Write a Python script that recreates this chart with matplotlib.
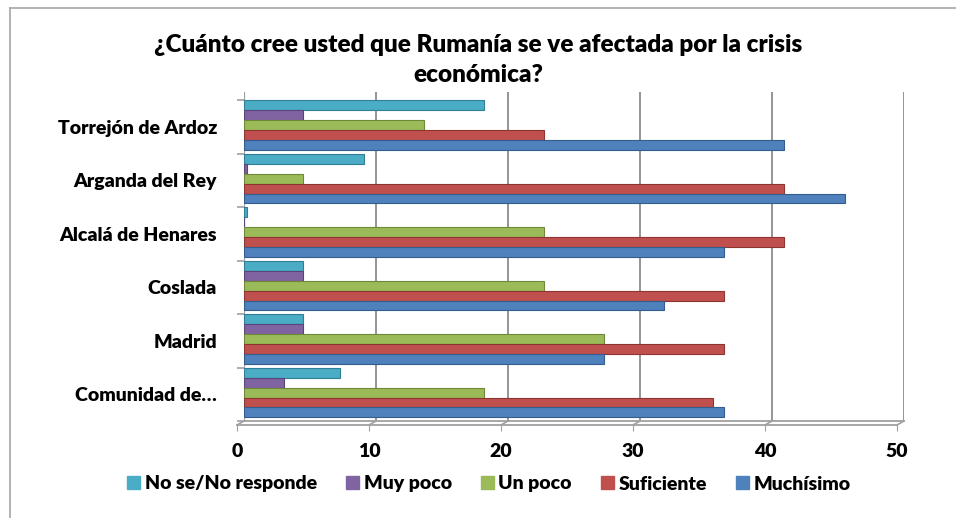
import matplotlib
matplotlib.use("Agg")
import matplotlib.pyplot as plt
import matplotlib.transforms as mtrans
from matplotlib.lines import Line2D
import numpy as np

plt.rcParams['font.family'] = ['Lato', 'DejaVu Sans']
FW = "heavy"

title = "¿Cuánto cree usted que Rumanía se ve afectada por la crisis\neconómica?"
categories = ["Comunidad de…", "Madrid", "Coslada", "Alcalá de Henares",
              "Arganda del Rey", "Torrejón de Ardoz"]
series_names = ["No se/No responde", "Muy poco", "Un poco", "Suficiente", "Muchísimo"]
colors = ["#4BACC6", "#8064A2", "#9BBB59", "#C0504D", "#4F81BD"]
edge_colors = ["#2F7F96", "#5A4578", "#6E8A38", "#8C3532", "#345C8C"]

no_se = [7.3, 4.5, 4.5, 0.2, 9.1, 18.2]
muy_poco = [3.0, 4.5, 4.5, 0.0, 0.2, 4.5]
un_poco = [18.2, 27.3, 22.7, 22.7, 4.5, 13.6]
suficiente = [35.5, 36.4, 36.4, 40.9, 40.9, 22.7]
muchisimo = [36.4, 27.3, 31.8, 36.4, 45.5, 40.9]
series = [no_se, muy_poco, un_poco, suficiente, muchisimo]
xticks = [0, 10, 20, 30, 40, 50]

W, H = 956, 518
fig = plt.figure(figsize=(W / 100, H / 100), dpi=100)
fig.patch.set_facecolor("white")

left_px, right_px, top_px, bottom_px = 244, 904, 92, 421
ax = fig.add_axes([left_px / W, 1 - bottom_px / H,
                   (right_px - left_px) / W, (bottom_px - top_px) / H])
ax.set_facecolor("white")

grid_col = "#8C8C8C"
for v in xticks[1:]:
    ax.axvline(v, color=grid_col, lw=1.3, zorder=0)
ax.axvline(0, color="#A0A0A0", lw=1.6, zorder=0)

y = np.arange(len(categories))
bh = 0.185
for k, (vals, c, ec, name) in enumerate(zip(series, colors, edge_colors, series_names)):
    ax.barh(y + 0.03 + (2 - k) * bh, vals, height=bh, color=c, edgecolor=ec,
            linewidth=0.8, label=name, zorder=3)

ax.set_xlim(0, 50)
ax.set_ylim(-0.5, 5.65)
for s in ax.spines.values():
    s.set_visible(False)
ax.spines['bottom'].set_visible(True)
ax.spines['bottom'].set_color("#A0A0A0")
ax.spines['bottom'].set_linewidth(1.3)

off = mtrans.ScaledTranslation(-7 / 100, -4 / 100, fig.dpi_scale_trans)
ax.plot([0, 50], [-0.5, -0.5], color="#A0A0A0", lw=1.3,
        transform=ax.transData + off, clip_on=False, zorder=1)
for v in xticks:
    ax.annotate("", xy=(v, -0.5), xytext=(-7 * 0.72, -4 * 0.72),
                textcoords="offset points",
                arrowprops=dict(arrowstyle="-", color="#A0A0A0", lw=1.2,
                                shrinkA=0, shrinkB=0),
                annotation_clip=False)

ax.set_xticks(xticks)
ax.set_xticklabels([str(v) for v in xticks], fontsize=14, fontweight=FW)
ax.tick_params(axis="x", length=4, color="#A0A0A0", pad=9)
for t in ax.xaxis.get_major_ticks():
    t.label1.set_transform(t.label1.get_transform() + off)
    t.tick1line.set_transform(t.tick1line.get_transform() + off)

ax.set_yticks(y)
ax.set_yticklabels(categories, fontsize=14, fontweight=FW)
ax.tick_params(axis="y", length=0, pad=19.5)
ax.set_yticks(np.arange(-0.5, 6, 1), minor=True)
ax.tick_params(axis="y", which="minor", length=5, color="#A0A0A0", width=1.2)

fig.text(0.5, 1 - 60 / H, title, ha="center", va="center", fontsize=17.5,
         fontweight=FW, linespacing=1.4)

handles = [plt.Rectangle((0, 0), 1, 1, color=c) for c in colors]
fig.legend(handles, series_names, loc="center", bbox_to_anchor=(489 / W, 1 - 484 / H),
           ncol=5, frameon=False, prop={"size": 14, "weight": FW},
           handlelength=0.65, handleheight=0.65, handletextpad=0.25,
           columnspacing=1.5)

fig.add_artist(Line2D([10 / W, 10 / W], [0, 1 - 8 / H], transform=fig.transFigure,
                      color="#A6A6A6", lw=1.2))
fig.add_artist(Line2D([10 / W, 1], [1 - 8 / H, 1 - 8 / H], transform=fig.transFigure,
                      color="#A6A6A6", lw=1.2))

fig.savefig("out.png", dpi=100)
